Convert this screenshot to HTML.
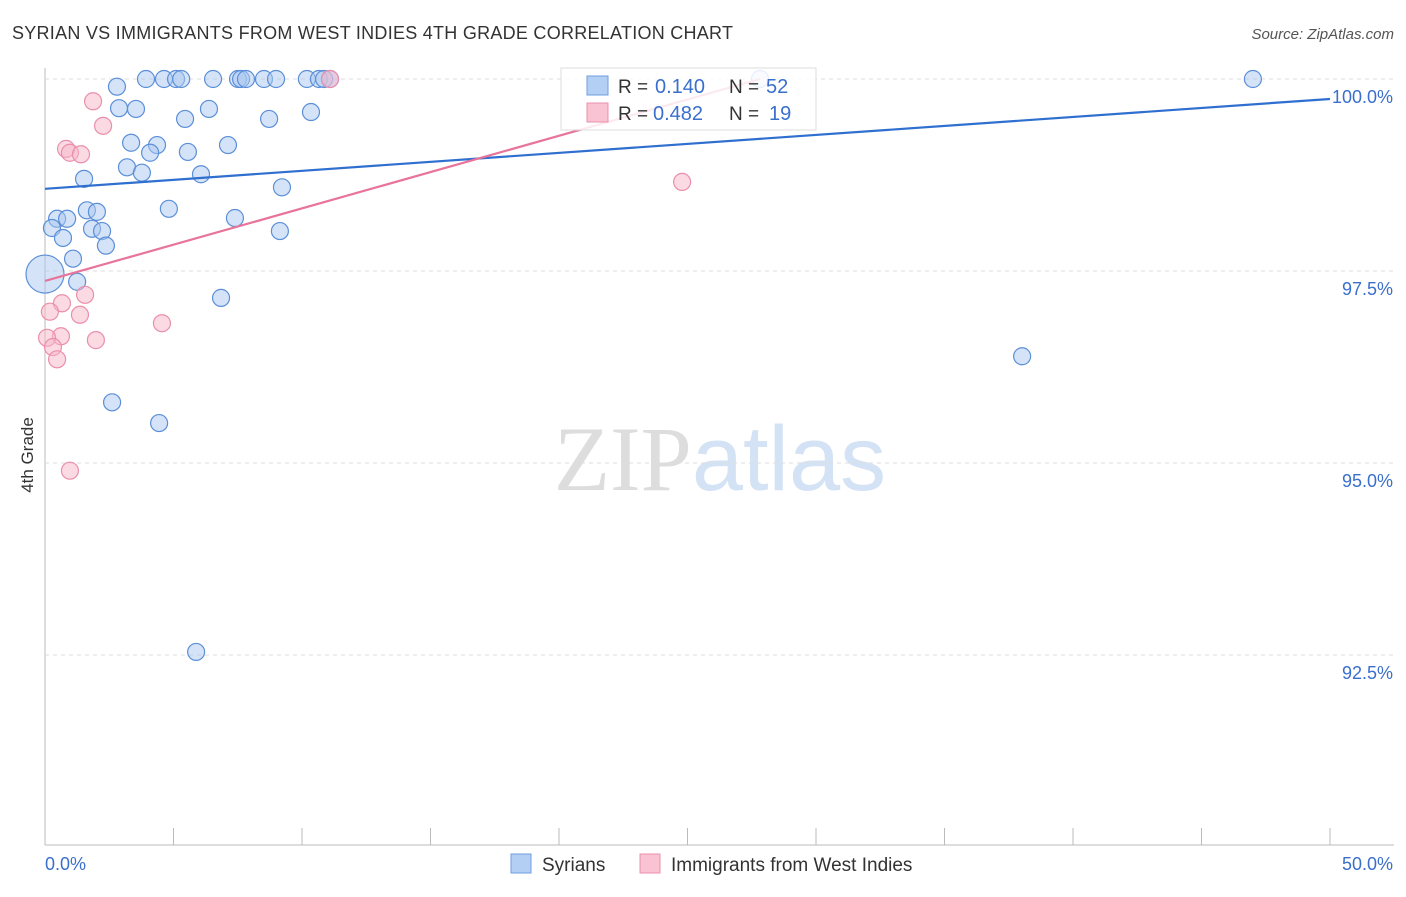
<!DOCTYPE html>
<html><head><meta charset="utf-8"><style>
body{margin:0;background:#fff;font-family:"Liberation Sans",sans-serif}
</style></head><body>
<svg width="1406" height="892" xmlns="http://www.w3.org/2000/svg" id="svg" font-family="Liberation Sans, sans-serif">
<text x="12" y="39" font-size="18" fill="#333" textLength="721">SYRIAN VS IMMIGRANTS FROM WEST INDIES 4TH GRADE CORRELATION CHART</text>
<text x="1394" y="39" font-size="15" fill="#555" text-anchor="end" font-style="italic">Source: ZipAtlas.com</text>
<text transform="translate(33,455) rotate(-90)" font-size="17" fill="#333" text-anchor="middle">4th Grade</text>
<text x="720" y="490" font-size="92" text-anchor="middle"><tspan fill="#ddd" font-family="Liberation Serif, serif">ZIP</tspan><tspan fill="#d3e2f4">atlas</tspan></text>
<g id="grid"></g><g id="marks"></g>
<g>
<rect x="561" y="68" width="255" height="62" fill="#fff" fill-opacity="0.85" stroke="#ddd"/>
<rect x="587" y="76" width="21" height="19" fill="#b3cff3" stroke="#6d9ee0"/>
<rect x="587" y="103" width="21" height="19" fill="#f9c3d3" stroke="#ec8fab"/>
<text x="618" y="93" font-size="19" fill="#333">R =</text>
<text x="655" y="93" font-size="20" fill="#3a6fcc">0.140</text>
<text x="729" y="93" font-size="19" fill="#333">N =</text>
<text x="766" y="93" font-size="20" fill="#3a6fcc">52</text>
<text x="618" y="120" font-size="19" fill="#333">R =</text>
<text x="653" y="120" font-size="20" fill="#3a6fcc">0.482</text>
<text x="729" y="120" font-size="19" fill="#333">N =</text>
<text x="769" y="120" font-size="20" fill="#3a6fcc">19</text>
</g>
<g>
<rect x="511" y="854" width="20" height="19" fill="#b3cff3" stroke="#6d9ee0"/>
<text x="542" y="871" font-size="19" fill="#333">Syrians</text>
<rect x="640" y="854" width="20" height="19" fill="#f9c3d3" stroke="#ec8fab"/>
<text x="671" y="871" font-size="19" fill="#333">Immigrants from West Indies</text>
</g>
<text x="45" y="870" font-size="18" fill="#3a6fcc">0.0%</text>
<text x="1393" y="870" font-size="18" fill="#3a6fcc" text-anchor="end">50.0%</text>
</svg>
<script>
const blueX=[2.8,3.93,4.63,5.1,5.3,6.54,7.51,7.63,7.82,8.52,8.99,10.19,10.66,10.86,11.09,27.82,47.0,2.88,3.54,6.38,5.45,8.72,10.35,3.35,4.36,7.12,4.09,5.56,3.19,3.77,6.07,1.52,9.22,4.82,1.63,2.02,0.47,0.86,7.39,0.27,1.83,2.22,9.14,0.7,2.37,1.09,0,1.25,6.85,38.02,2.61,4.44,5.88];
const blueY=[99.9,100,100,100,100,100,100,100,100,100,100,100,100,100,100,100,100,99.62,99.61,99.61,99.48,99.48,99.57,99.17,99.14,99.14,99.04,99.05,98.85,98.78,98.76,98.7,98.59,98.31,98.29,98.27,98.18,98.18,98.19,98.06,98.05,98.02,98.02,97.93,97.83,97.66,97.46,97.36,97.15,96.39,95.79,95.52,92.54];
const pinkX=[11.09,1.87,2.26,0.82,0.97,1.4,24.79,1.56,0.66,1.36,0.19,4.55,0.62,1.98,0.08,0.31,0.47,0.97];
const pinkY=[100,99.71,99.39,99.09,99.04,99.02,98.66,97.19,97.08,96.93,96.97,96.82,96.65,96.6,96.63,96.51,96.35,94.9];
const blueTrendX=[0,50], blueTrendY=[98.57,99.74];
const pinkTrendX=[0,27.82], pinkTrendY=[97.37,100];
const yTicks=[100,97.5,95,92.5], yTickLabels=["100.0%","97.5%","95.0%","92.5%"];
const sx=v=>45+v*25.7, sy=v=>79+(100-v)*76.8;
const NS="http://www.w3.org/2000/svg";
const grid=document.getElementById('grid'), marks=document.getElementById('marks');
function mk(p,tag,a){const e=document.createElementNS(NS,tag);for(const k in a)e.setAttribute(k,a[k]);p.appendChild(e);return e;}
let ax=mk(grid,'line',{x1:45,y1:68,x2:45,y2:845,stroke:'#bbb'});


let bx=mk(grid,'line',{x1:45,y1:845,x2:1394,y2:845,stroke:'#bbb'});


for(let i=0;i<=10;i++){const t=mk(grid,'line',{x1:sx(i*5),y1:828,x2:sx(i*5),y2:845,stroke:'#bbb'});

}
yTicks.forEach((v,i)=>{const l=mk(grid,'line',{x1:45,y1:sy(v),x2:1394,y2:sy(v),stroke:'#ddd','stroke-dasharray':'4,4'});


const t=mk(grid,'text',{x:1393,y:sy(v)+24,'font-size':18,fill:'#3a6fcc','text-anchor':'end'});t.textContent=yTickLabels[i];

});
blueX.forEach((x,i)=>{const c=mk(marks,'circle',{cx:sx(x),cy:sy(blueY[i]),r:i==46?19:8.5,fill:'#a9c8f0','fill-opacity':0.5,stroke:'#5b8fd8','stroke-width':1.2});

});
pinkX.forEach((x,i)=>{const c=mk(marks,'circle',{cx:sx(x),cy:sy(pinkY[i]),r:8.5,fill:'#f7b6c9','fill-opacity':0.5,stroke:'#ea8fab','stroke-width':1.2});

});
let bt=mk(marks,'line',{x1:sx(blueTrendX[0]),y1:sy(blueTrendY[0]),x2:sx(blueTrendX[1]),y2:sy(blueTrendY[1]),stroke:'#2f6fd0','stroke-width':2.2});


let pt=mk(marks,'line',{x1:sx(pinkTrendX[0]),y1:sy(pinkTrendY[0]),x2:sx(pinkTrendX[1]),y2:sy(pinkTrendY[1]),stroke:'#e8749a','stroke-width':2.2});


</script>
</body></html>
